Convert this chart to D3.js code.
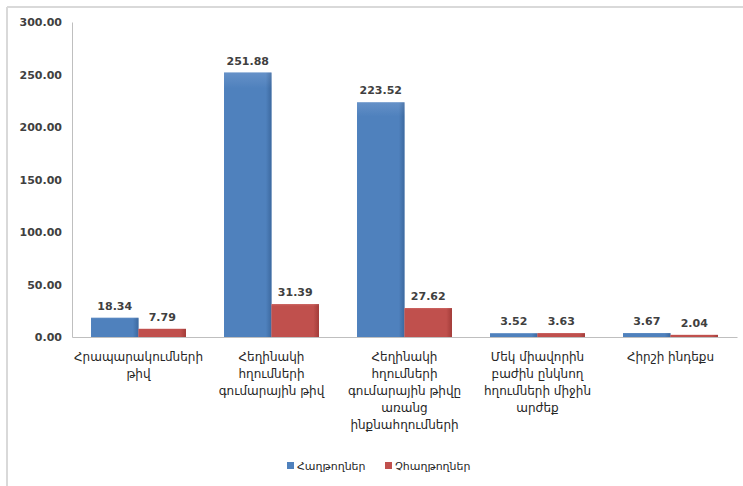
<!DOCTYPE html>
<html>
<head>
<meta charset="utf-8">
<script src="https://cdn.jsdelivr.net/npm/d3@7/dist/d3.min.js"></script>
<style>
  html, body { margin: 0; padding: 0; background: #fff; }
  svg { display: block; }
</style>
</head>
<body>
<svg id="chart" width="743" height="486"></svg>
<script>
const categories = [
  ["Հրապարակումների", "թիվ"],
  ["Հեղինակի", "հղումների", "գումարային թիվ"],
  ["Հեղինակի", "հղումների", "գումարային թիվը", "առանց", "ինքնահղումների"],
  ["Մեկ միավորին", "բաժին ընկնող", "հղումների միջին", "արժեք"],
  ["Հիրշի ինդեքս"]
];
const seriesNames = ["Հաղթողներ", "Չհաղթողներ"];
const winners = [18.34, 251.88, 223.52, 3.52, 3.67];
const nonWinners = [7.79, 31.39, 27.62, 3.63, 2.04];
const yTicks = [0, 50, 100, 150, 200, 250, 300];

const svg = d3.select("#chart");
const W = 743, H = 486;
const m = { left: 72, right: 6, top: 22, bottom: 149 };
const x0 = d3.scaleBand().domain(d3.range(categories.length)).range([m.left, W - m.right]).paddingInner(0.286).paddingOuter(0.143);
const x1 = d3.scaleBand().domain([0, 1]).range([0, x0.bandwidth()]);
const y = d3.scaleLinear().domain([0, 300]).range([H - m.bottom, m.top]);

// frame (top + left border)
svg.append("line").attr("x1", 7).attr("x2", W).attr("y1", 7).attr("y2", 7).attr("stroke", "#d9d9d9").attr("stroke-width", 2);
svg.append("line").attr("x1", 7).attr("x2", 7).attr("y1", 7).attr("y2", H).attr("stroke", "#d9d9d9").attr("stroke-width", 2);

const defs = svg.append("defs");
const colors = [
  { id: "gBlue", top: "#86a9d8", mid: "#4f81bd", bot: "#30598c" },
  { id: "gRed", top: "#df8583", mid: "#c0504d", bot: "#8f2f2c" }
];
colors.forEach(c => {
  const g = defs.append("linearGradient").attr("id", c.id).attr("x1", 0).attr("x2", 0).attr("y1", 0).attr("y2", 1);
  g.append("stop").attr("offset", "0%").attr("stop-color", c.top);
  g.append("stop").attr("offset", "6%").attr("stop-color", c.mid);
  g.append("stop").attr("offset", "100%").attr("stop-color", c.mid);
  const h = defs.append("linearGradient").attr("id", c.id + "h").attr("x1", 0).attr("x2", 1).attr("y1", 0).attr("y2", 0);
  h.append("stop").attr("offset", "0%").attr("stop-color", c.mid);
  h.append("stop").attr("offset", "88%").attr("stop-color", c.mid);
  h.append("stop").attr("offset", "100%").attr("stop-color", c.bot);
});

// Y axis
const yAxis = d3.axisLeft(y).tickValues(yTicks).tickSize(0).tickPadding(10).tickFormat(d3.format(".2f"));
const ya = svg.append("g").attr("transform", `translate(${m.left},0)`).call(yAxis);
ya.select(".domain").attr("stroke", "#bfbfbf");
ya.selectAll("text").attr("font-family", "DejaVu Sans, sans-serif").attr("font-size", 11).attr("font-weight", "bold").attr("fill", "#404040");

// X axis baseline
const xa = svg.append("g").attr("transform", `translate(0,${y(0)})`).call(d3.axisBottom(x0).tickSize(0).tickFormat(""));
xa.select(".domain").attr("stroke", "#bfbfbf");

const data = [winners, nonWinners];
const fills = ["url(#gBlue)", "url(#gRed)"];
const groups = svg.append("g").selectAll("g").data(categories).join("g")
  .attr("transform", (d, i) => `translate(${x0(i)},0)`);

[0, 1].forEach(s => {
  groups.append("rect")
    .attr("x", x1(s)).attr("width", x1.bandwidth())
    .attr("y", (d, i) => y(data[s][i])).attr("height", (d, i) => y(0) - y(data[s][i]))
    .attr("fill", fills[s]);
  groups.append("rect")
    .attr("x", x1(s)).attr("width", x1.bandwidth())
    .attr("y", (d, i) => y(data[s][i])).attr("height", (d, i) => y(0) - y(data[s][i]))
    .attr("fill", s === 0 ? "url(#gBlueh)" : "url(#gRedh)").attr("opacity", 0.6);
  groups.append("text")
    .attr("x", x1(s) + x1.bandwidth() / 2)
    .attr("y", (d, i) => y(data[s][i]) - 8)
    .attr("text-anchor", "middle")
    .attr("font-family", "DejaVu Sans, sans-serif").attr("font-size", 11).attr("font-weight", "bold").attr("fill", "#404040")
    .text((d, i) => data[s][i].toFixed(2));
});

// Category labels
groups.append("text")
  .attr("text-anchor", "middle")
  .attr("font-family", "DejaVu Sans, sans-serif").attr("font-size", 12).attr("fill", "#262626")
  .each(function(d) {
    const t = d3.select(this);
    d.forEach((line, k) => {
      t.append("tspan").attr("x", x0.bandwidth() / 2).attr("y", y(0) + 24 + k * 17).text(line);
    });
  });

// Legend
const legend = svg.append("g").attr("transform", "translate(287,466)");
const lx = [0, 98];
seriesNames.forEach((n, i) => {
  const g = legend.append("g").attr("transform", `translate(${lx[i]},0)`);
  g.append("rect").attr("x", 0).attr("y", -4).attr("width", 7).attr("height", 7).attr("fill", fills[i]);
  g.append("text").attr("x", 10).attr("y", 4).attr("font-family", "DejaVu Sans, sans-serif").attr("font-size", 11).attr("fill", "#262626").text(n);
});
</script>
</body>
</html>
